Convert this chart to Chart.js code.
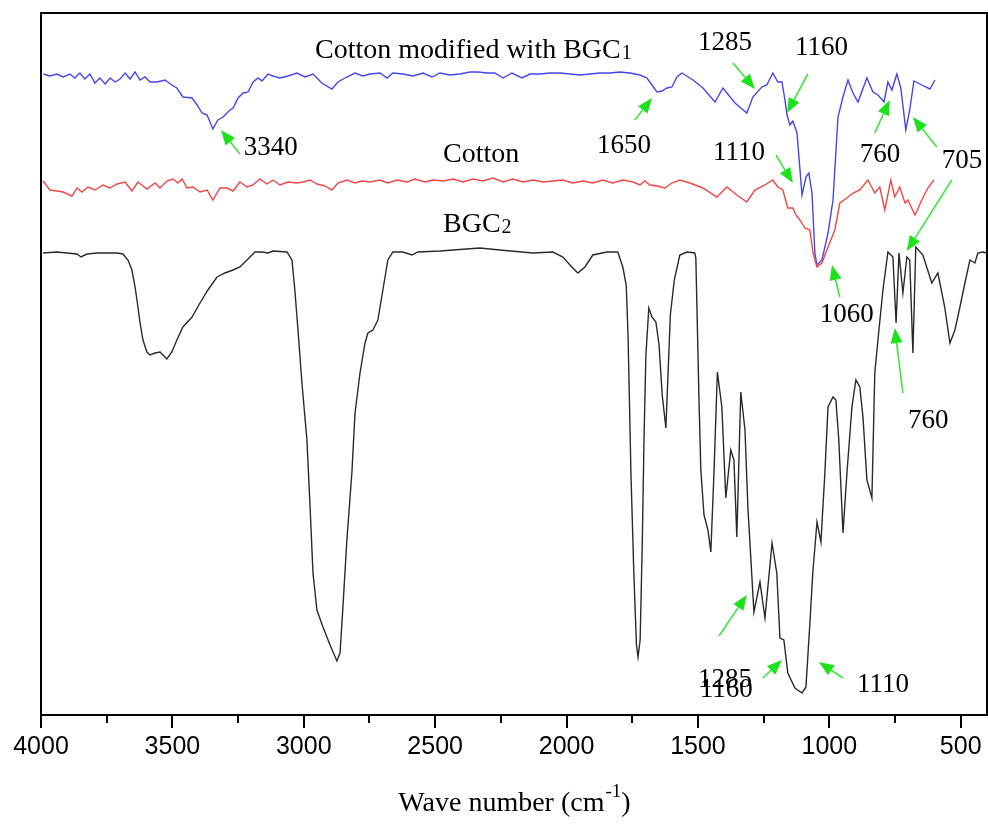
<!DOCTYPE html>
<html>
<head>
<meta charset="utf-8">
<script src="https://cdn.jsdelivr.net/npm/chart.js@4.4.1/dist/chart.umd.min.js"></script>
<style>
  html, body { margin: 0; padding: 0; background: #fff; }
</style>
</head>
<body>
<canvas id="ftir" width="988" height="831"></canvas>
<script>
// FTIR spectra, wave number (cm-1) vs transmittance (arbitrary units, offset per curve)
const blueWn = [3991,3966,3940,3916,3890,3871,3852,3833,3814,3795,
  3776,3756,3737,3718,3699,3680,3661,3642,3623,3604,
  3585,3559,3528,3502,3483,3460,3425,3406,3387,3368,
  3346,3327,3307,3281,3269,3250,3231,3212,3193,3174,
  3159,3136,3117,3091,3060,3026,2995,2965,2931,2893,
  2870,2836,2805,2775,2748,2710,2683,2661,2623,2585,
  2546,2512,2482,2444,2406,2368,2337,2303,2273,2242,
  2208,2170,2139,2101,2063,2025,1987,1949,1911,1873,
  1835,1797,1759,1721,1694,1675,1656,1637,1618,1599,
  1580,1561,1519,1481,1435,1405,1359,1314,1291,1257,
  1238,1215,1196,1180,1169,1161,1150,1139,1123,1104,
  1089,1078,1066,1055,1047,1028,1005,986,967,948,
  929,910,891,857,834,815,792,777,762,743,
  728,709,694,678,648,617,598];
const blueVal = [641,639,641,638,641,637,642,636,641,632,
  637,631,637,633,636,642,636,643,635,638,
  633,633,635,630,627,618,617,610,602,600,
  586,595,598,605,607,617,622,623,633,637,
  634,641,639,637,639,642,638,641,632,626,
  633,638,642,639,641,642,637,642,641,639,
  642,638,642,640,641,643,643,642,642,637,
  642,637,641,641,642,642,641,640,641,642,
  642,643,642,640,637,630,623,624,627,628,
  638,642,635,627,613,627,612,602,618,628,
  630,642,633,633,615,600,590,594,582,520,
  538,542,522,462,450,455,482,515,598,618,
  635,622,613,637,623,620,613,633,625,641,
  627,585,605,634,630,626,635];

const redWn = [3992,3966,3939,3916,3882,3863,3844,3821,3795,3764,
  3737,3711,3680,3654,3631,3597,3566,3547,3521,3498,
  3479,3463,3444,3422,3395,3368,3346,3319,3292,3269,
  3243,3216,3193,3167,3140,3117,3091,3060,3026,3003,
  2976,2950,2919,2893,2870,2836,2805,2779,2748,2710,
  2680,2645,2607,2577,2539,2508,2470,2432,2394,2356,
  2318,2280,2242,2204,2166,2128,2090,2052,2014,1976,
  1938,1900,1862,1824,1786,1747,1721,1702,1683,1656,
  1626,1599,1569,1531,1481,1428,1390,1352,1314,1283,
  1245,1215,1196,1177,1158,1139,1127,1112,1093,1074,
  1062,1047,1028,1005,979,960,933,910,884,853,
  827,808,789,766,751,732,712,701,674,648,
  625,602];
const redVal = [534,525,524,523,519,527,523,528,525,530,
  527,531,533,524,533,526,532,527,534,536,
  532,536,527,528,523,525,515,527,527,524,
  533,528,530,536,531,535,530,533,532,533,
  535,531,529,525,532,535,532,534,533,535,
  532,535,533,536,533,535,534,536,533,536,
  534,537,533,536,533,535,533,534,535,532,
  534,532,535,532,535,533,530,534,530,529,
  527,532,535,532,527,518,528,520,513,525,
  530,535,528,525,507,507,500,495,487,485,
  462,448,452,468,485,512,517,522,525,535,
  522,528,505,535,518,528,512,515,500,515,
  527,535];

const blackWn = [3992,3939,3901,3863,3848,3825,3787,3749,3711,3688,
  3669,3654,3642,3631,3623,3612,3597,3585,3566,3547,
  3536,3521,3502,3483,3460,3425,3395,3365,3330,3300,
  3269,3243,3216,3186,3159,3136,3117,3064,3045,3034,
  3022,3007,2988,2976,2965,2950,2927,2900,2874,2862,
  2851,2836,2817,2805,2786,2767,2756,2737,2718,2699,
  2680,2661,2623,2588,2566,2482,2330,2254,2128,2052,
  2014,1980,1957,1930,1900,1846,1805,1786,1773,1766,
  1755,1744,1734,1728,1720,1712,1705,1698,1687,1675,
  1660,1648,1636,1622,1614,1605,1590,1569,1542,1512,
  1508,1496,1489,1477,1462,1451,1439,1426,1409,1394,
  1375,1363,1352,1337,1321,1310,1287,1264,1245,1218,
  1200,1188,1173,1158,1131,1104,1089,1074,1063,1047,
  1032,1017,1005,986,975,964,948,933,914,899,
  884,872,857,838,827,815,796,777,758,746,
  735,720,705,694,682,671,644,610,587,561,
  541,522,503,484,465,446,435,416,401];
const blackVal = [462,463,462,461,458,461,462,462,462,461,
  455,445,428,408,392,375,363,360,362,363,
  360,356,363,375,388,398,412,425,438,442,
  445,448,455,463,463,462,464,463,455,425,
  385,332,275,208,142,105,88,70,54,62,
  108,175,242,302,342,372,382,385,395,425,
  455,463,463,460,463,464,467,465,462,463,
  458,448,442,448,460,463,463,448,430,380,
  242,142,70,58,75,170,280,360,407,398,
  393,370,320,287,340,400,435,460,463,462,
  457,315,245,200,185,163,242,343,308,217,
  265,255,178,323,285,208,103,133,97,172,
  142,77,75,42,27,22,28,92,142,193,
  173,242,308,318,315,275,182,242,308,335,
  328,298,235,217,342,375,425,463,458,392,
  462,422,458,455,362,468,460,432,442,408,
  372,385,408,432,455,452,462,463,462];

const minorTicks = [3750, 3250, 2750, 2250, 1750, 1250, 750];

// curve names and peak labels, placed in data units (wave number, transmittance)
const curveNames = [
  { text: 'Cotton modified with BGC', sub: '1', wn: 2957, t: 657 },
  { text: 'Cotton', sub: '', wn: 2470, t: 553 },
  { text: 'BGC', sub: '2', wn: 2470, t: 483 }
];
const peakLabels = [
  { text: '3340', wn: 3228, t: 560 },
  { text: '1650', wn: 1884, t: 562 },
  { text: '1285', wn: 1500, t: 665 },
  { text: '1160', wn: 1131, t: 660 },
  { text: '1110', wn: 1443, t: 555 },
  { text: '760', wn: 884, t: 553 },
  { text: '705', wn: 572, t: 547 },
  { text: '1060', wn: 1036, t: 393 },
  { text: '760', wn: 701, t: 287 },
  { text: '1285', wn: 1500, t: 28 },
  { text: '1160', wn: 1493, t: 18 },
  { text: '1110', wn: 895, t: 23 }
];
// arrows: tail wn, tail t, head wn, head t
const peakArrows = [
  [3243, 561, 3315, 585],
  [1740, 595, 1675, 617],
  [1367, 652, 1283, 626],
  [1082, 641, 1161, 602],
  [1203, 560, 1139, 532],
  [827, 582, 770, 615],
  [591, 568, 682, 598],
  [534, 535, 705, 464],
  [960, 418, 990, 450],
  [720, 322, 751, 387],
  [1420, 79, 1314, 120],
  [1253, 37, 1180, 55],
  [948, 37, 1040, 53]
];

function toPoints(wn, val) {
    return wn.map((x, i) => ({ x: x, y: val[i] }));
}

function drawArrow(ctx, x1, y1, x2, y2) {
    const ang = Math.atan2(y2 - y1, x2 - x1);
    const len = 15, half = 6;
    const bx = x2 - len * Math.cos(ang), by = y2 - len * Math.sin(ang);
    ctx.beginPath();
    ctx.moveTo(x1, y1);
    ctx.lineTo(bx, by);
    ctx.stroke();
    ctx.beginPath();
    ctx.moveTo(x2, y2);
    ctx.lineTo(bx + half * Math.sin(ang), by - half * Math.cos(ang));
    ctx.lineTo(bx - half * Math.sin(ang), by + half * Math.cos(ang));
    ctx.closePath();
    ctx.fill();
}

const decor = {
    id: 'decor',
    afterDraw(chart) {
        const ctx = chart.ctx;
        const a = chart.chartArea;
        const xs = chart.scales.x, ys = chart.scales.y;
        ctx.save();

        // frame round the plot
        ctx.strokeStyle = '#000';
        ctx.lineWidth = 2;
        ctx.strokeRect(a.left, a.top, a.right - a.left, a.bottom - a.top);

        // minor ticks
        ctx.beginPath();
        minorTicks.forEach(v => {
            const px = Math.round(xs.getPixelForValue(v));
            ctx.moveTo(px, a.bottom);
            ctx.lineTo(px, a.bottom + 8);
        });
        ctx.stroke();

        // green arrows
        ctx.strokeStyle = 'rgb(60,230,60)';
        ctx.fillStyle = 'rgb(30,225,30)';
        ctx.lineWidth = 1.6;
        peakArrows.forEach(p => {
            drawArrow(ctx, xs.getPixelForValue(p[0]), ys.getPixelForValue(p[1]),
                xs.getPixelForValue(p[2]), ys.getPixelForValue(p[3]));
        });

        // labels
        ctx.fillStyle = '#000';
        ctx.textAlign = 'left';
        ctx.textBaseline = 'alphabetic';
        curveNames.forEach(c => {
            const px = xs.getPixelForValue(c.wn), py = ys.getPixelForValue(c.t);
            ctx.font = '28px "Liberation Serif"';
            ctx.fillText(c.text, px, py);
            if (c.sub) {
                const w = ctx.measureText(c.text).width;
                ctx.font = '20px "Liberation Serif"';
                ctx.fillText(c.sub, px + w + 1, py + 1);
            }
        });
        ctx.font = '27px "Liberation Serif"';
        peakLabels.forEach(l => {
            ctx.fillText(l.text, xs.getPixelForValue(l.wn), ys.getPixelForValue(l.t));
        });

        // axis title with superscript
        const main = 'Wave number (cm', sup = '-1', close = ')';
        ctx.font = '28px "Liberation Serif"';
        const w1 = ctx.measureText(main).width;
        const w3 = ctx.measureText(close).width;
        ctx.font = '19px "Liberation Serif"';
        const w2 = ctx.measureText(sup).width;
        const cx = (a.left + a.right) / 2;
        const x0 = cx - (w1 + w2 + w3) / 2;
        const base = 811;
        ctx.font = '28px "Liberation Serif"';
        ctx.fillText(main, x0, base);
        ctx.fillText(close, x0 + w1 + w2 + 1, base);
        ctx.font = '19px "Liberation Serif"';
        ctx.fillText(sup, x0 + w1 + 1, base - 14);

        ctx.restore();
    }
};

const ctx = document.getElementById('ftir').getContext('2d');
new Chart(ctx, {
    type: 'line',
    data: {
        datasets: [
            {
                label: 'Cotton',
                data: toPoints(redWn, redVal),
                borderColor: 'rgb(240,70,70)',
                borderWidth: 1.4,
                order: 1
            },
            {
                label: 'Cotton modified with BGC1',
                data: toPoints(blueWn, blueVal),
                borderColor: 'rgb(70,70,235)',
                borderWidth: 1.4,
                order: 2
            },
            {
                label: 'BGC2',
                data: toPoints(blackWn, blackVal),
                borderColor: '#2a2a2a',
                borderWidth: 1.4,
                order: 3
            }
        ]
    },
    options: {
        responsive: false,
        animation: false,
        devicePixelRatio: 1,
        elements: { point: { radius: 0 }, line: { tension: 0 } },
        layout: { padding: { left: 41, right: 1, top: 13, bottom: 65 } },
        plugins: { legend: { display: false }, tooltip: { enabled: false } },
        scales: {
            x: {
                type: 'linear',
                reverse: true,
                min: 400,
                max: 4000,
                border: { display: false },
                grid: {
                    drawOnChartArea: false,
                    drawTicks: true,
                    tickLength: 13,
                    lineWidth: 2,
                    tickColor: c => (c.tick && c.tick.value % 500 === 0) ? '#000' : 'rgba(0,0,0,0)'
                },
                ticks: {
                    stepSize: 250,
                    includeBounds: false,
                    autoSkip: false,
                    maxRotation: 0,
                    padding: 4,
                    color: '#000',
                    font: { family: '"Liberation Sans"', size: 25 },
                    callback: v => (v % 500 === 0 ? v : '')
                }
            },
            y: {
                display: false,
                min: 0,
                max: 702
            }
        }
    },
    plugins: [decor]
});
</script>
</body>
</html>
